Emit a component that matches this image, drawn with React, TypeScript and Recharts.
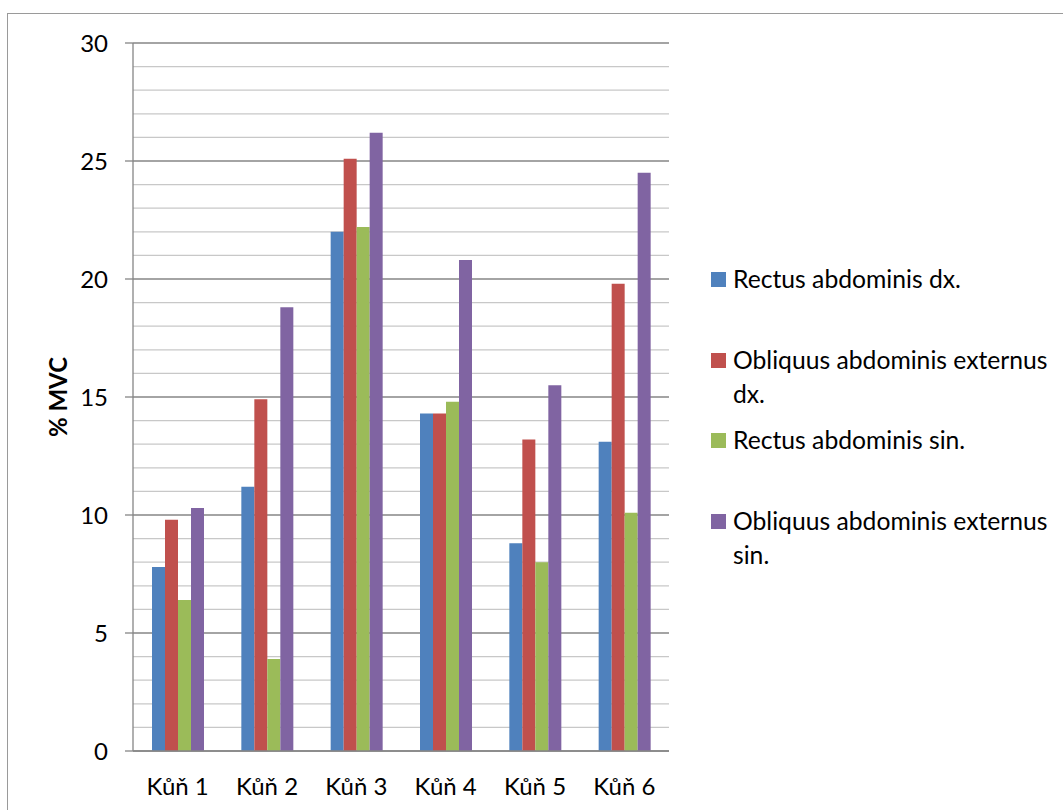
import React from 'react'
import {
    BarChart,
    Bar,
    XAxis,
    YAxis,
    CartesianGrid,
} from 'recharts'

// Muscle activity per horse, % of maximal voluntary contraction
const categories = ['Kůň 1', 'Kůň 2', 'Kůň 3', 'Kůň 4', 'Kůň 5', 'Kůň 6']
const rectusDx = [7.8, 11.2, 22.0, 14.3, 8.8, 13.1]
const obliquusDx = [9.8, 14.9, 25.1, 14.3, 13.2, 19.8]
const rectusSin = [6.4, 3.9, 22.2, 14.8, 8.0, 10.1]
const obliquusSin = [10.3, 18.8, 26.2, 20.8, 15.5, 24.5]

const yTicks = [0, 5, 10, 15, 20, 25, 30]
const minorLines = [1, 2, 3, 4, 6, 7, 8, 9, 11, 12, 13, 14, 16, 17, 18, 19, 21, 22, 23, 24, 26, 27, 28, 29]

const series = [
    { key: 'rectusDx', name: 'Rectus abdominis dx.', color: '#4F81BD', values: rectusDx },
    { key: 'obliquusDx', name: 'Obliquus abdominis externus dx.', color: '#C0504D', values: obliquusDx },
    { key: 'rectusSin', name: 'Rectus abdominis sin.', color: '#9BBB59', values: rectusSin },
    { key: 'obliquusSin', name: 'Obliquus abdominis externus sin.', color: '#8064A2', values: obliquusSin },
]

const chartData = categories.map((name, i) => {
    const row: Record<string, string | number> = { name }
    series.forEach(s => { row[s.key] = s.values[i] })
    return row
})

const FONT = 'Lato, "Open Sans", sans-serif'
const AXIS_GREY = '#868686'

function YLabel({ viewBox }: any) {
    const x = viewBox.x + 57
    const y = viewBox.y + viewBox.height / 2
    return (
        <text
            x={x}
            y={y}
            transform={`rotate(-90, ${x}, ${y})`}
            textAnchor="middle"
            dominantBaseline="central"
            fontSize={24}
            fontWeight="bold"
            fill="#000"
        >
            % MVC
        </text>
    )
}

function SideLegend() {
    return (
        <div style={{ position: 'absolute', left: 711, top: 262 }}>
            {series.map((s, i) => (
                <div
                    key={s.key}
                    style={{ position: 'absolute', top: i * 80.5, left: 0, width: 352 }}
                >
                    <div
                        style={{
                            position: 'absolute',
                            left: 0,
                            top: 10,
                            width: 15,
                            height: 15,
                            background: s.color,
                        }}
                    />
                    <div
                        style={{
                            marginLeft: 22,
                            fontSize: 24.7,
                            lineHeight: '34px',
                            color: '#000',
                            width: 330,
                        }}
                    >
                        {s.name}
                    </div>
                </div>
            ))}
        </div>
    )
}

export default function App() {
    return (
        <div
            style={{
                position: 'absolute',
                left: 0,
                top: 0,
                width: 1063,
                height: 810,
                overflow: 'hidden',
                background: '#fff',
                fontFamily: FONT,
            }}
        >
            <div
                style={{
                    position: 'absolute',
                    left: 7,
                    top: 13,
                    width: 1100,
                    height: 900,
                    borderTop: '1px solid #9a9a9a',
                    borderLeft: '1px solid #9a9a9a',
                }}
            />
            <BarChart
                width={1063}
                height={810}
                data={chartData}
                margin={{ top: 43, right: 394, bottom: 0, left: 0 }}
                barCategoryGap={19}
                barGap={0}
            >
                <CartesianGrid
                    vertical={false}
                    horizontalValues={minorLines}
                    stroke="#C8C8C8"
                    strokeWidth={1.3}
                />
                <CartesianGrid
                    vertical={false}
                    horizontalValues={yTicks}
                    stroke={AXIS_GREY}
                    strokeWidth={1.3}
                />
                <XAxis
                    dataKey="name"
                    height={59}
                    tickLine={false}
                    tickSize={0}
                    tickMargin={27}
                    axisLine={{ stroke: AXIS_GREY, strokeWidth: 1.3 }}
                    tick={{ fill: '#000', fontSize: 24 }}
                />
                <YAxis
                    width={133}
                    domain={[0, 30]}
                    ticks={yTicks}
                    interval={0}
                    tickSize={8}
                    tickMargin={17}
                    axisLine={{ stroke: AXIS_GREY, strokeWidth: 1.3 }}
                    tickLine={{ stroke: AXIS_GREY, strokeWidth: 1.3 }}
                    tick={{ fill: '#000', fontSize: 24 }}
                    label={<YLabel />}
                />
                {series.map(s => (
                    <Bar
                        key={s.key}
                        dataKey={s.key}
                        name={s.name}
                        fill={s.color}
                        isAnimationActive={false}
                    />
                ))}
            </BarChart>
            <SideLegend />
        </div>
    )
}
